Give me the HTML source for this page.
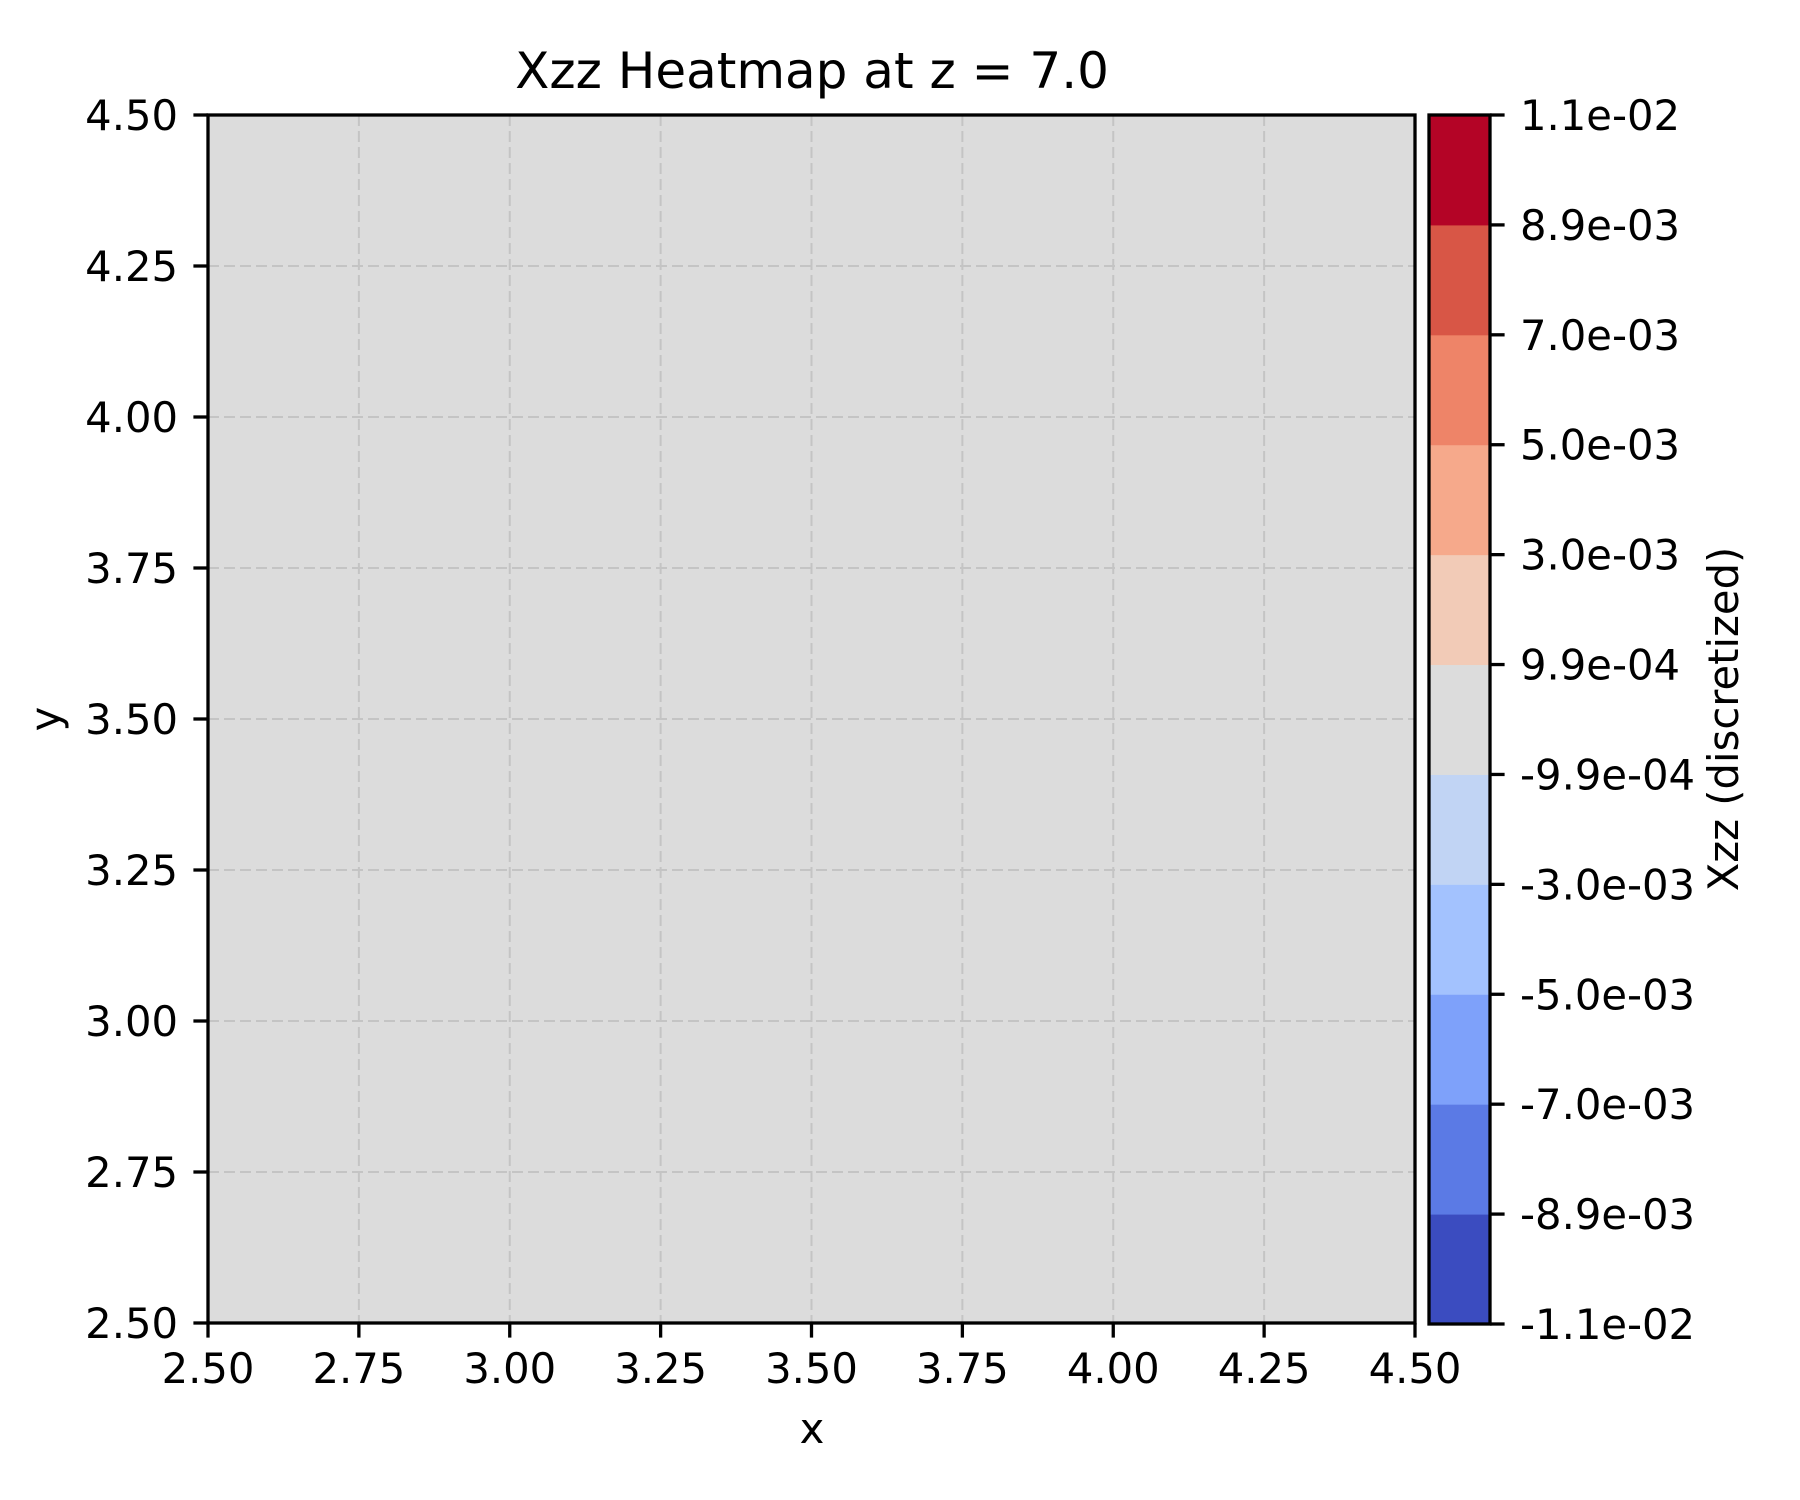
<!DOCTYPE html>
<html><head><meta charset="utf-8"><style>
html,body{margin:0;padding:0;background:#fff}
svg{display:block;font-family:"DejaVu Sans","Liberation Sans",sans-serif}
</style></head><body>
<svg id="chart" width="1800" height="1500" viewBox="0 0 1800 1500" xmlns="http://www.w3.org/2000/svg">
<text x="812" y="88" font-size="50" text-anchor="middle">Xzz Heatmap at z = 7.0</text>
<g id="plot"></g>
<g id="cbar"></g>
<text x="812" y="1443" font-size="41.7" text-anchor="middle">x</text>
<text transform="translate(60,719) rotate(-90)" font-size="41.7" text-anchor="middle">y</text>
<text transform="translate(1738,719) rotate(-90)" font-size="41.7" text-anchor="middle">Xzz (discretized)</text>
</svg>
<script>
const xCoords = [2.5, 3.0, 3.5, 4.0, 4.5];
const yCoords = [2.5, 3.0, 3.5, 4.0, 4.5];
const zValues = [
  [0,0,0,0],
  [0,0,0,0],
  [0,0,0,0],
  [0,0,0,0]
];
const xTicks = [2.5, 2.75, 3.0, 3.25, 3.5, 3.75, 4.0, 4.25, 4.5];
const yTicks = [2.5, 2.75, 3.0, 3.25, 3.5, 3.75, 4.0, 4.25, 4.5];
const levels = [-0.011, -0.0089, -0.007, -0.005, -0.003, -0.00099, 0.00099, 0.003, 0.005, 0.007, 0.0089, 0.011];
const levelLabels = ["-1.1e-02","-8.9e-03","-7.0e-03","-5.0e-03","-3.0e-03","-9.9e-04","9.9e-04","3.0e-03","5.0e-03","7.0e-03","8.9e-03","1.1e-02"];
const binColors = ["#3b4cc0","#5b7ae5","#7ea1fa","#a3c2fe","#c1d4f4","#dcdcdc","#f2cbb7","#f6a98b","#ee8468","#d85646","#b40426"];

const NS = "http://www.w3.org/2000/svg";
const L = 208, R = 1415, T = 115, B = 1323;
const CL = 1429, CR = 1490, CT = 115, CB = 1324;
const xMin = 2.5, xMax = 4.5, yMin = 2.5, yMax = 4.5;
const sx = v => L + (v - xMin) / (xMax - xMin) * (R - L);
const sy = v => B - (v - yMin) / (yMax - yMin) * (B - T);
// uniform spacing of boundaries (BoundaryNorm-style colorbar)
const sc = i => CB - i / (levels.length - 1) * (CB - CT);
function mk(tag, attrs, parent) {
  const e = document.createElementNS(NS, tag);
  for (const k in attrs) e.setAttribute(k, attrs[k]);
  parent.appendChild(e);
  return e;
}
function colorFor(v) {
  for (let i = 0; i < levels.length - 1; i++) if (v >= levels[i] && v < levels[i+1]) return binColors[i];
  return v < levels[0] ? binColors[0] : binColors[binColors.length-1];
}
const plot = document.getElementById('plot');
for (let j = 0; j < zValues.length; j++) {
  for (let i = 0; i < zValues[j].length; i++) {
    const x0 = sx(xCoords[i]), x1 = sx(xCoords[i+1]);
    const y0 = sy(yCoords[j+1]), y1 = sy(yCoords[j]);
    const c = mk('rect', {x: x0, y: y0, width: x1 - x0 + 0.5, height: y1 - y0 + 0.5, fill: colorFor(zValues[j][i])}, plot);
    
    
  }
}
xTicks.forEach(v => {
  const x = sx(v);
  const g = mk('line', {x1: x, x2: x, y1: T, y2: B, stroke: '#c4c4c4', 'stroke-width': 2, 'stroke-dasharray': '11,5'}, plot);
  
  
  const t = mk('line', {x1: x, x2: x, y1: B, y2: B + 14.6, stroke: '#000', 'stroke-width': 3.3}, plot);
  
  
  const lb = mk('text', {x: x, y: 1383, 'font-size': 41.7, 'text-anchor': 'middle'}, plot);
  lb.textContent = v.toFixed(2);
  
  
});
yTicks.forEach(v => {
  const y = sy(v);
  const g = mk('line', {x1: L, x2: R, y1: y, y2: y, stroke: '#c4c4c4', 'stroke-width': 2, 'stroke-dasharray': '11,5'}, plot);
  
  
  const t = mk('line', {x1: L - 14.6, x2: L, y1: y, y2: y, stroke: '#000', 'stroke-width': 3.3}, plot);
  
  
  const lb = mk('text', {x: 178, y: y + 15, 'font-size': 41.7, 'text-anchor': 'end'}, plot);
  lb.textContent = v.toFixed(2);
  
  
});
const frame = mk('rect', {x: L, y: T, width: R - L, height: B - T, fill: 'none', stroke: '#000', 'stroke-width': 3.3}, plot);



const cbar = document.getElementById('cbar');
for (let i = 0; i < binColors.length; i++) {
  const y0 = sc(i + 1), y1 = sc(i);
  const r = mk('rect', {x: CL, y: y0, width: CR - CL, height: y1 - y0 + 0.5, fill: binColors[i]}, cbar);
  
  
}
levels.forEach((v, i) => {
  const y = sc(i);
  const t = mk('line', {x1: CR, x2: CR + 14.6, y1: y, y2: y, stroke: '#000', 'stroke-width': 3.3}, cbar);
  
  
  const lb = mk('text', {x: 1520, y: y + 15, 'font-size': 41.7}, cbar);
  lb.textContent = levelLabels[i];
  
  
});
const cf = mk('rect', {x: CL, y: CT, width: CR - CL, height: CB - CT, fill: 'none', stroke: '#000', 'stroke-width': 3.3}, cbar);


</script>
</body></html>
